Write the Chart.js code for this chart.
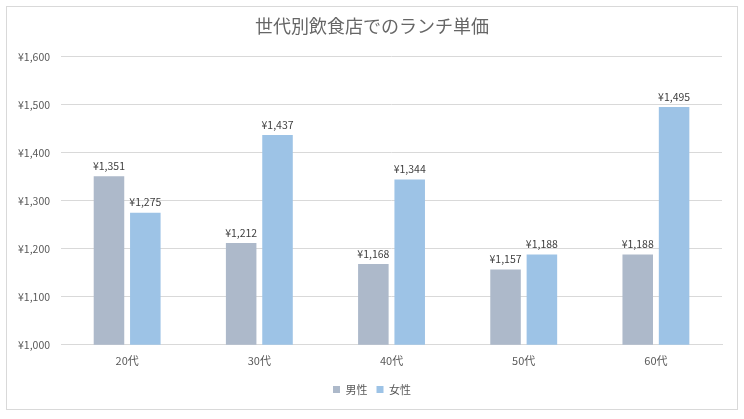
<!DOCTYPE html>
<html>
<head>
<meta charset="utf-8">
<script src="https://cdn.jsdelivr.net/npm/chart.js@4"></script>
<style>
  html, body { margin: 0; padding: 0; background: #fff; }
  .frame { position: absolute; left: 6px; top: 6px; width: 730px; height: 402px; border: 1px solid #d9d9d9; }
  canvas { display: block; }
</style>
</head>
<body>
<div class="frame"><canvas id="chart"></canvas></div>
<script>
const categories = ['20代', '30代', '40代', '50代', '60代'];
const male = [1351, 1212, 1168, 1157, 1188];
const female = [1275, 1437, 1344, 1188, 1495];
const seriesNames = ['男性', '女性'];
const yTicks = { min: 1000, max: 1600, step: 100 };

const FONT = "'Noto Sans CJK JP', 'Noto Sans', sans-serif";

const yen = v => '¥' + v.toLocaleString('en-US');

// draw the value above each bar
const barLabels = {
    id: 'barLabels',
    afterDatasetsDraw(chart) {
        const ctx = chart.ctx;
        ctx.save();
        ctx.font = '10.5px ' + FONT;
        ctx.fillStyle = '#404040';
        ctx.textAlign = 'center';
        ctx.textBaseline = 'bottom';
        chart.data.datasets.forEach((ds, i) => {
            chart.getDatasetMeta(i).data.forEach((bar, j) => {
                ctx.fillText(yen(ds.data[j]), bar.x, bar.y - 5);
            });
        });
        ctx.restore();
    }
};

const ctx = document.querySelector('#chart').getContext('2d');
new Chart(ctx, {
    type: 'bar',
    data: {
        labels: categories,
        datasets: [
            { label: seriesNames[0], data: male, backgroundColor: '#adb9ca', barPercentage: 0.84, categoryPercentage: 0.55 },
            { label: seriesNames[1], data: female, backgroundColor: '#9dc3e6', barPercentage: 0.84, categoryPercentage: 0.55 }
        ]
    },
    options: {
        responsive: true,
        maintainAspectRatio: false,
        animation: false,
        layout: { padding: { left: 0, right: 0, top: 0, bottom: 4 } },
        plugins: {
            title: {
                display: true,
                text: '世代別飲食店でのランチ単価',
                color: '#666666',
                font: { family: FONT, size: 18, weight: 'normal' },
                padding: { top: 8, bottom: 20 }
            },
            legend: {
                position: 'bottom',
                labels: {
                    color: '#595959',
                    font: { family: FONT, size: 11 },
                    boxWidth: 7,
                    boxHeight: 7,
                    padding: 9
                }
            },
            tooltip: { enabled: false }
        },
        scales: {
            x: {
                grid: { display: false },
                border: { color: '#d9d9d9' },
                ticks: { color: '#595959', font: { family: FONT, size: 11 }, padding: 1 },
                afterFit: s => { s.height += 7; }
            },
            y: {
                min: yTicks.min,
                max: yTicks.max,
                grid: { color: '#d9d9d9', drawTicks: false },
                border: { display: false },
                ticks: {
                    stepSize: yTicks.step,
                    color: '#595959',
                    font: { family: FONT, size: 10.5 },
                    padding: 11,
                    callback: v => yen(v)
                }
            },
            // empty right margin so title and legend stay centred on the frame
            yRight: {
                position: 'right',
                grid: { display: false },
                border: { display: false },
                ticks: { display: false },
                afterFit: s => { s.width = 15; }
            }
        }
    },
    plugins: [barLabels]
});
</script>
</body>
</html>
